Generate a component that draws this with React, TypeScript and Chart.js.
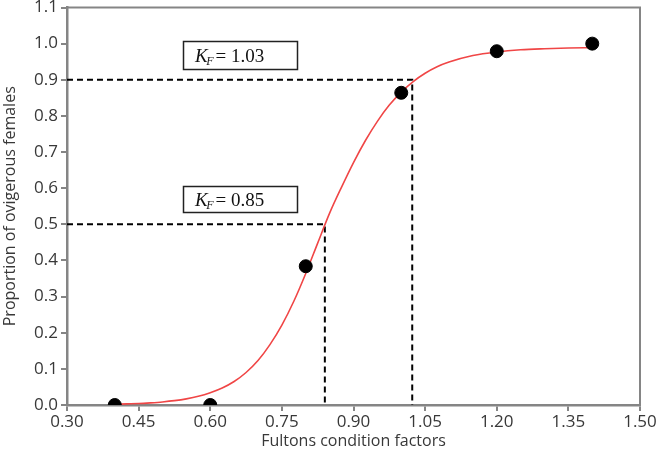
import React, { useEffect, useRef } from "react";
import { Chart, registerables } from "chart.js";

Chart.register(...registerables);

// Observed data points
const obsX = [0.4, 0.6, 0.8, 1.0, 1.2, 1.4];
const obsY = [0.0, 0.0, 0.384, 0.864, 0.979, 1.0];

// Fitted curve
const curveX = [0.4, 0.425, 0.45, 0.475, 0.5, 0.525, 0.55, 0.575, 0.6, 0.625, 0.65, 0.675, 0.7, 0.725, 0.75, 0.775, 0.8, 0.825, 0.85, 0.875, 0.9, 0.925, 0.95, 0.975, 1.0, 1.025, 1.05, 1.075, 1.1, 1.15, 1.2, 1.25, 1.3, 1.35, 1.4];
const curveY = [0.002, 0.003, 0.004, 0.006, 0.0085, 0.012, 0.017, 0.024, 0.034, 0.047, 0.065, 0.09, 0.123, 0.167, 0.221, 0.287, 0.364, 0.448, 0.531, 0.603, 0.671, 0.732, 0.785, 0.83, 0.866, 0.895, 0.918, 0.936, 0.949, 0.967, 0.977, 0.983, 0.986, 0.988, 0.989];

// Reference levels
const probLevels = [0.5, 0.9];
const kfValues = [0.84, 1.023];
const kfLabels = ["0.85", "1.03"];

// Ticks
const xTicks = [0.3, 0.45, 0.6, 0.75, 0.9, 1.05, 1.2, 1.35, 1.5];
const yTicks = [0, 0.1, 0.2, 0.3, 0.4, 0.5, 0.6, 0.7, 0.8, 0.9, 1.0, 1.1];

const xTitle = "Fultons condition factors";
const yTitle = "Proportion of ovigerous females";

const AXIS = "#858585";
const TEXT = "#383838";

// label boxes (data units): [xLeft, xRight, yTop, yBottom]
const boxes = [
  { rect: [0.543, 0.782, 1.007, 0.93], label: kfLabels[1] },
  { rect: [0.543, 0.782, 0.605, 0.533], label: kfLabels[0] },
];

const framePlugin = {
  id: "frameAndLabels",
  afterDatasetsDraw(chart: any) {
    const { ctx, chartArea, scales } = chart;
    const { left, top, right, bottom } = chartArea;
    ctx.save();
    ctx.strokeStyle = AXIS;
    ctx.lineWidth = 2;
    ctx.beginPath();
    ctx.moveTo(left, top);
    ctx.lineTo(right, top);
    ctx.lineTo(right, bottom);
    ctx.stroke();

    for (const b of boxes) {
      const x0 = scales.x.getPixelForValue(b.rect[0]);
      const x1 = scales.x.getPixelForValue(b.rect[1]);
      const y0 = scales.y.getPixelForValue(b.rect[2]);
      const y1 = scales.y.getPixelForValue(b.rect[3]);
      ctx.fillStyle = "#ffffff";
      ctx.fillRect(x0, y0, x1 - x0, y1 - y0);
      ctx.strokeStyle = "#222";
      ctx.lineWidth = 1.5;
      ctx.strokeRect(Math.round(x0) + 0.5, Math.round(y0) + 0.5, Math.round(x1 - x0), Math.round(y1 - y0));
      const base = (y0 + y1) / 2 + 6.5;
      let tx = x0 + 12;
      ctx.fillStyle = "#111";
      ctx.textBaseline = "alphabetic";
      ctx.textAlign = "left";
      ctx.font = 'italic 19px "Liberation Serif"';
      ctx.fillText("K", tx, base);
      tx += ctx.measureText("K").width - 1.5;
      ctx.font = 'italic 12px "Liberation Serif"';
      ctx.fillText("F", tx, base + 3);
      tx += ctx.measureText("F").width + 2;
      ctx.font = '19px "Liberation Serif"';
      ctx.fillText("= " + b.label, tx, base);
    }
    ctx.restore();
  },
};

export default function App() {
  const ref = useRef<HTMLCanvasElement | null>(null);
  useEffect(() => {
    if (!ref.current) return;
    const dashed = (i: number) => ({
      type: "line" as const,
      data: [
        { x: xTicks[0], y: probLevels[i] },
        { x: kfValues[i], y: probLevels[i] },
        { x: kfValues[i], y: yTicks[0] },
      ],
      borderColor: "#000",
      borderWidth: 2,
      borderDash: [6, 4],
      pointRadius: 0,
      tension: 0,
      fill: false,
    });
    const chart = new Chart(ref.current, {
      type: "scatter",
      data: {
        datasets: [
          {
            type: "scatter",
            data: obsX.map((x, i) => ({ x, y: obsY[i] })),
            backgroundColor: "#000",
            borderColor: "#000",
            pointRadius: 6.5,
            pointHoverRadius: 6.5,
          } as any,
          {
            type: "line",
            data: curveX.map((x, i) => ({ x, y: curveY[i] })),
            borderColor: "rgb(240,70,70)",
            borderWidth: 1.6,
            pointRadius: 0,
            cubicInterpolationMode: "monotone",
            fill: false,
          } as any,
          dashed(0) as any,
          dashed(1) as any,
        ],
      },
      options: {
        animation: false,
        responsive: false,
        layout: { padding: { top: 7, right: 21, left: 0, bottom: 0 } },
        plugins: { legend: { display: false }, tooltip: { enabled: false } },
        scales: {
          x: {
            type: "linear",
            min: 0.3,
            max: 1.5,
            afterBuildTicks: (s: any) => {
              s.ticks = xTicks.map((v) => ({ value: v }));
            },
            afterFit: (s: any) => {
              s.height = 53;
              s.paddingLeft = 0;
              s.paddingRight = 0;
            },
            ticks: {
              callback: (v: any) => Number(v).toFixed(2),
              color: TEXT,
              font: { family: "Open Sans", size: 17 },
              padding: 1,
              maxRotation: 0,
            },
            grid: { drawOnChartArea: false, drawTicks: true, tickLength: 6, color: AXIS, lineWidth: 2 },
            border: { color: AXIS, width: 2.5 },
            title: {
              display: true,
              text: xTitle,
              color: TEXT,
              font: { family: "Open Sans", size: 16 },
              padding: { top: 0, bottom: 7 },
            },
          },
          y: {
            type: "linear",
            min: 0,
            max: 1.1,
            afterBuildTicks: (s: any) => {
              s.ticks = yTicks.map((v) => ({ value: v }));
            },
            afterFit: (s: any) => {
              s.width = 67;
              s.paddingTop = 0;
              s.paddingBottom = 0;
            },
            ticks: {
              callback: (v: any) => Number(v).toFixed(1),
              color: TEXT,
              font: { family: "Open Sans", size: 17 },
              padding: 3,
            },
            grid: { drawOnChartArea: false, drawTicks: true, tickLength: 6, color: AXIS, lineWidth: 2 },
            border: { color: AXIS, width: 2.5 },
            title: {
              display: true,
              text: yTitle,
              color: TEXT,
              font: { family: "Open Sans", size: 16 },
              padding: { top: 1, bottom: 0 },
            },
          },
        },
      },
      plugins: [framePlugin],
    });
    return () => chart.destroy();
  }, []);
  return (
    <div style={{ position: "fixed", left: 0, top: 0, width: 661, height: 458, background: "#fff" }}>
      <canvas ref={ref} width={661} height={458} />
    </div>
  );
}
